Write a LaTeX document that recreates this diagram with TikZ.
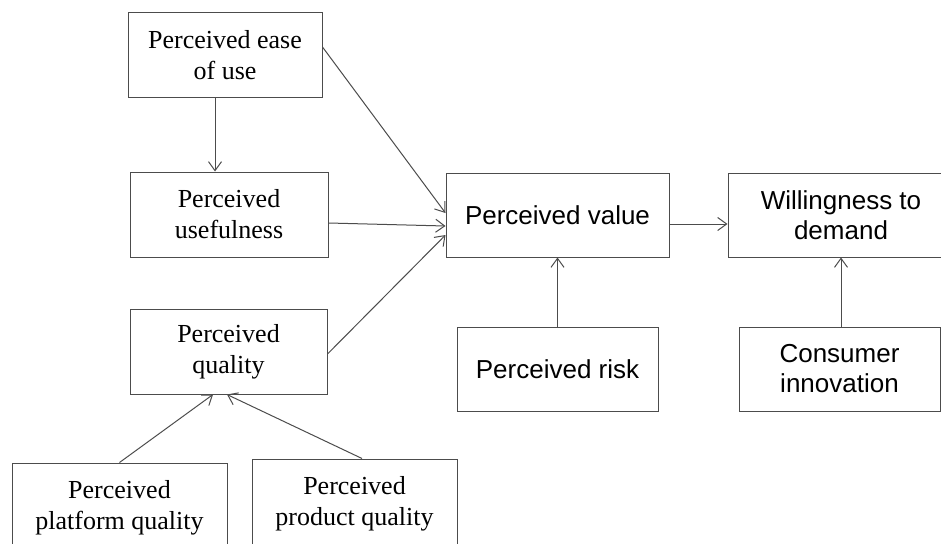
\documentclass[tikz,border=0pt]{standalone}
\usepackage{fontspec}
\setmainfont{Liberation Serif}
\setsansfont{Liberation Sans}
\usetikzlibrary{arrows.meta}
\begin{document}
\begin{tikzpicture}[x=1pt,y=-1pt,
  boxs/.style={draw=black!70, line width=1pt, fill=white, align=center, inner sep=0pt,
    font=\fontsize{26}{31}\selectfont},
  boxsans/.style={boxs, font=\sffamily\fontsize{26}{30}\selectfont},
  arr/.style={draw=black!70, line width=1pt, -{Straight Barb[length=9pt,width=13pt]}}]
\useasboundingbox (0,0) rectangle (941,543);
\fill[white] (0,0) rectangle (941,543);
\clip (0,0) rectangle (941,543);
\node[boxs, minimum width=194pt, minimum height=84pt] (ease) at (225,55) {Perceived ease\\of use};
\node[boxs, minimum width=198pt, minimum height=85pt] (useful) at (229,214.5) {Perceived\\usefulness};
\node[boxs, minimum width=197pt, minimum height=85pt] (quality) at (228.5,351.5) {Perceived\\quality};
\node[boxs, minimum width=215pt, minimum height=90pt] (platform) at (119.5,508) {Perceived\\platform quality};
\node[boxs, minimum width=205pt, minimum height=90pt] (product) at (354.5,504) {Perceived\\product quality};
\node[boxsans, minimum width=223pt, minimum height=84pt] (value) at (557.5,215) {Perceived value};
\node[boxsans, minimum width=201pt, minimum height=84pt] (risk) at (557.5,369) {Perceived risk};
\node[boxsans, minimum width=226pt, minimum height=84pt] (will) at (841,215) {Willingness to\\demand};
\node[boxsans, minimum width=201pt, minimum height=84pt] (cons) at (839.5,369) {Consumer\\innovation};
\draw[arr] ([xshift=-10pt]ease.south) -- ([xshift=-14pt]useful.north);
\draw[arr] ([yshift=8pt]ease.east) -- ([yshift=2pt]value.west);
\draw[arr] ([yshift=-8.5pt]useful.east) -- ([yshift=-11pt]value.west);
\draw[arr] ([yshift=-2.5pt]quality.east) -- ([yshift=-20pt]value.west);
\draw[arr] (platform.north) -- ([xshift=-15.5pt]quality.south);
\draw[arr] ([xshift=7.5pt]product.north) -- ([xshift=-1.5pt]quality.south);
\draw[arr] ([yshift=-9pt]value.east) -- ([yshift=-9pt]will.west);
\draw[arr] (risk.north) -- (value.south);
\draw[arr] ([xshift=1.5pt]cons.north) -- ([xshift=1.5pt]cons.north |- will.south);
\end{tikzpicture}
\end{document}
